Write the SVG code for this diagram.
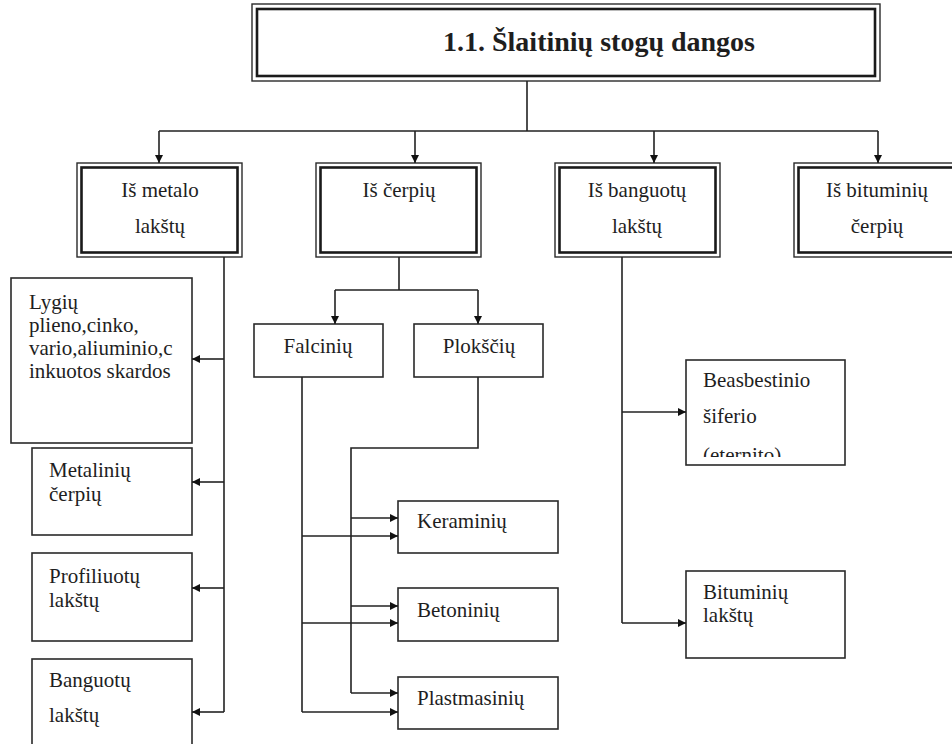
<svg xmlns="http://www.w3.org/2000/svg" width="952" height="744" viewBox="0 0 952 744">
<style>
.o{fill:#fff;stroke:#2a2a2a;stroke-width:1.4}
.i{fill:none;stroke:#1a1a1a;stroke-width:2.6}
.b{fill:#fff;stroke:#2a2a2a;stroke-width:1.6}
text{font-family:'Liberation Serif','DejaVu Serif',serif;font-size:21px;fill:#1e1e1e}
.c{text-anchor:middle}
.h{font-weight:bold;font-size:28px}
.l{fill:none;stroke:#222;stroke-width:1.6}
</style>
<defs>
<marker id="a" viewBox="0 0 10 10" refX="10" refY="5" markerWidth="9" markerHeight="8" markerUnits="userSpaceOnUse" orient="auto"><path d="M0,0 L10,5 L0,10 z" fill="#111"/></marker>
<clipPath id="cb"><rect x="686" y="360" width="159" height="97"/></clipPath>
</defs>
<rect width="952" height="744" fill="#fff"/>
<g id="title">
<rect class="o" x="252" y="4" width="628" height="77"/>
<rect class="i" x="257" y="9" width="618" height="67"/>
<text class="h" x="443" y="51" textLength="312" lengthAdjust="spacingAndGlyphs">1.1. Šlaitinių stogų dangos</text>
</g>
<g id="metal">
<rect class="o" x="77" y="163" width="165" height="94"/>
<rect class="i" x="81.5" y="167.5" width="156" height="85"/>
<text class="c" x="160" y="197">Iš metalo</text>
<text class="c" x="160" y="233">lakštų</text>
</g>
<g id="cerpiu">
<rect class="o" x="316" y="163" width="165" height="94"/>
<rect class="i" x="320.5" y="167.5" width="156" height="85"/>
<text class="c" x="399" y="197">Iš čerpių</text>
</g>
<g id="banguotu">
<rect class="o" x="555" y="163" width="165" height="94"/>
<rect class="i" x="559.5" y="167.5" width="156" height="85"/>
<text class="c" x="637" y="197">Iš banguotų</text>
<text class="c" x="637" y="233">lakštų</text>
</g>
<g id="bituminiu">
<rect class="o" x="794" y="163" width="166" height="94"/>
<rect class="i" x="798.5" y="167.5" width="157" height="85"/>
<text class="c" x="877" y="197">Iš bituminių</text>
<text class="c" x="877" y="233">čerpių</text>
</g>
<g id="lygiu">
<rect class="b" x="11" y="278" width="181" height="165"/>
<text x="29" y="309">Lygių</text>
<text x="29" y="332">plieno,cinko,</text>
<text x="29" y="355">vario,aliuminio,c</text>
<text x="29" y="378">inkuotos skardos</text>
</g>
<g id="metaliniu">
<rect class="b" x="32" y="448" width="160" height="87"/>
<text x="49" y="477">Metalinių</text>
<text x="49" y="501">čerpių</text>
</g>
<g id="profiliuotu">
<rect class="b" x="32" y="553" width="160" height="88"/>
<text x="49" y="583">Profiliuotų</text>
<text x="49" y="607">lakštų</text>
</g>
<g id="banguotu-l">
<rect class="b" x="32" y="659" width="160" height="95"/>
<text x="49" y="687">Banguotų</text>
<text x="49" y="722">lakštų</text>
</g>
<g id="falciniu">
<rect class="b" x="254" y="324" width="129" height="53"/>
<text class="c" x="318" y="353">Falcinių</text>
</g>
<g id="ploksciu">
<rect class="b" x="414" y="324" width="129" height="53"/>
<text class="c" x="479" y="353">Plokščių</text>
</g>
<g id="keraminiu">
<rect class="b" x="398" y="501" width="160" height="52"/>
<text x="417" y="528">Keraminių</text>
</g>
<g id="betoniniu">
<rect class="b" x="398" y="588" width="160" height="53"/>
<text x="417" y="617">Betoninių</text>
</g>
<g id="plastmasiniu">
<rect class="b" x="398" y="677" width="160" height="52"/>
<text x="417" y="705">Plastmasinių</text>
</g>
<g id="beasbestinio">
<rect class="b" x="686" y="360" width="159" height="105"/>
<g clip-path="url(#cb)">
<text x="703" y="387">Beasbestinio</text>
<text x="703" y="423">šiferio</text>
<text x="703" y="462">(eternito)</text>
</g>
</g>
<g id="bituminiu-l">
<rect class="b" x="686" y="571" width="159" height="87"/>
<text x="703" y="599">Bituminių</text>
<text x="703" y="622">lakštų</text>
</g>
<g id="connectors" class="l">
<path d="M527,81 V131 M159,131 H878"/>
<path d="M159,131 V163" marker-end="url(#a)"/>
<path d="M415,131 V163" marker-end="url(#a)"/>
<path d="M654,131 V163" marker-end="url(#a)"/>
<path d="M878,131 V163" marker-end="url(#a)"/>
<path d="M224,257 V712"/>
<path d="M224,359 H192" marker-end="url(#a)"/>
<path d="M224,482 H192" marker-end="url(#a)"/>
<path d="M224,588 H192" marker-end="url(#a)"/>
<path d="M224,712 H192" marker-end="url(#a)"/>
<path d="M399,257 V290 M335,290 H478"/>
<path d="M335,290 V324" marker-end="url(#a)"/>
<path d="M478,290 V324" marker-end="url(#a)"/>
<path d="M302,377 V712"/>
<path d="M302,536 H398" marker-end="url(#a)"/>
<path d="M302,623 H398" marker-end="url(#a)"/>
<path d="M302,712 H398" marker-end="url(#a)"/>
<path d="M478,377 V448 H351 V693"/>
<path d="M351,518 H398" marker-end="url(#a)"/>
<path d="M351,606 H398" marker-end="url(#a)"/>
<path d="M351,693 H398" marker-end="url(#a)"/>
<path d="M622,257 V623"/>
<path d="M622,412 H686" marker-end="url(#a)"/>
<path d="M622,623 H686" marker-end="url(#a)"/>
</g>
</svg>
